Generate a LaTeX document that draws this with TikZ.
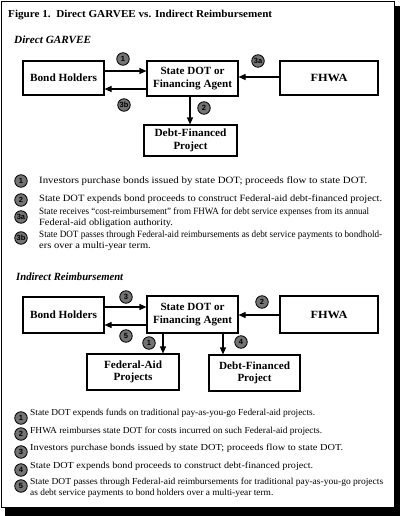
\documentclass[tikz,border=0pt]{standalone}
\usepackage{fontspec}
\setmainfont{Liberation Serif}
\setsansfont{Liberation Sans}
\usetikzlibrary{arrows.meta}
\definecolor{badgegray}{RGB}{115,115,115}
\newsavebox\fitbox
\newcommand\fitto[2]{\sbox\fitbox{#2}\pgfmathsetmacro\fitratio{(#1)/(\the\wd\fitbox)}\global\let\lastratio\fitratio\scalebox{\fitratio}[1]{\usebox\fitbox}}
\newcommand\fitmix[2]{\sbox\fitbox{#2}\pgfmathsetmacro\fitratio{((#1)/(\the\wd\fitbox)+\lastratio)/2}\scalebox{\fitratio}[1]{\usebox\fitbox}}
\tikzset{
  box/.style={draw=black, line width=1.1pt, fill=white, inner sep=0pt, align=center, font=\fontsize{11}{12.5}\selectfont\bfseries},
  badge/.style={circle, draw=black, line width=0.8pt, fill=badgegray, inner sep=0pt, minimum size=12.5pt, font=\fontsize{7.5}{8}\sffamily\bfseries},
  flow/.style={line width=1.1pt, -{Triangle[length=7pt,width=6pt]}},
  legend/.style={anchor=west, inner sep=0pt, align=left, font=\fontsize{9.6}{11.2}\selectfont},
  legendb/.style={anchor=west, inner sep=0pt, align=left, font=\fontsize{9.2}{11.2}\selectfont},
  heading/.style={anchor=west, inner sep=0pt, font=\fontsize{11}{12}\selectfont\bfseries\itshape},
}
\begin{document}
\begin{tikzpicture}[x=1pt,y=-1pt]
\useasboundingbox (0,0) rectangle (400,516);
% frame with shadow
\fill[black] (5,6) rectangle (400,516);
\draw[fill=white, line width=0.6pt] (1.5,1.5) rectangle (394,507);

\node[anchor=west, inner sep=0pt, font=\fontsize{10.6}{12}\selectfont\bfseries] (title) at (8,15) {\fitto{264}{Figure 1.\ \ Direct GARVEE vs. Indirect Reimbursement}};

% ---------- Direct GARVEE ----------
\node[heading] (h1) at (14,40) {\fitto{77}{Direct GARVEE}};

\node[box, minimum width=81pt, minimum height=34pt] (bh1) at (63.5,78) {\fitto{67}{Bond Holders}};
\node[box, minimum width=91pt, minimum height=35pt] (sd1) at (192.5,78.5) {\fitto{64}{State DOT or}\\\fitto{79}{Financing Agent}};
\node[box, minimum width=98pt, minimum height=34pt] (fh1) at (329,78) {\fitto{37}{FHWA}};
\node[box, minimum width=93pt, minimum height=31pt] (df1) at (190.5,140.5) {\fitto{72}{Debt-Financed}\\\fitto{34}{Project}};

\coordinate (a1s) at (bh1.east |- 0,71);
\coordinate (a1e) at (sd1.west |- 0,71);
\draw[flow] (a1s) -- (a1e);
\coordinate (a3bs) at (sd1.west |- 0,89);
\coordinate (a3be) at (bh1.east |- 0,89);
\draw[flow] (a3bs) -- (a3be);
\coordinate (a3as) at (fh1.west |- 0,77);
\coordinate (a3ae) at (sd1.east |- 0,77);
\draw[flow] (a3as) -- (a3ae);
\coordinate (a2s) at (sd1.south -| 190,0);
\coordinate (a2e) at (df1.north -| 190,0);
\draw[flow] (a2s) -- (a2e);

\node[badge] (b1) at (123,59) {1};
\node[badge] (b3a) at (258,61) {3a};
\node[badge] (b3b) at (124,105) {3b};
\node[badge] (b2) at (204,108) {2};

% legend 1
\node[badge] (l1) at (21,181) {1};
\node[legend] (t1) at (39,181) {\fitto{328}{Investors purchase bonds issued by state DOT; proceeds flow to state DOT.}};
\node[badge] (l2) at (21,200) {2};
\node[legend] (t2) at (39,199.5) {\fitto{343}{State DOT expends bond proceeds to construct Federal-aid debt-financed project.}};
\node[badge] (l3a) at (21,217) {3a};
\node[legend] (t3a) at (39,217.5) {\fitto{330}{State receives “cost-reimbursement” from FHWA for debt service expenses from its annual}\\\fitmix{151}{Federal-aid obligation authority.}};
\node[badge] (l3b) at (21,238) {3b};
\node[legend] (t3b) at (39,240.5) {\fitto{343}{State DOT passes through Federal-aid reimbursements as debt service payments to bondhold-}\\\fitmix{126}{ers over a multi-year term.}};

% ---------- Indirect Reimbursement ----------
\node[heading] (h2) at (16,277) {\fitto{107}{Indirect Reimbursement}};

\node[box, minimum width=81pt, minimum height=36pt] (bh2) at (63.5,315) {\fitto{67}{Bond Holders}};
\node[box, minimum width=91pt, minimum height=37pt] (sd2) at (192.5,314.5) {\fitto{64}{State DOT or}\\\fitto{79}{Financing Agent}};
\node[box, minimum width=98pt, minimum height=37pt] (fh2) at (329,314.5) {\fitto{37}{FHWA}};
\node[box, minimum width=92pt, minimum height=36pt] (fa2) at (133,372) {\fitto{58}{Federal-Aid}\\\fitto{39}{Projects}};
\node[box, minimum width=91pt, minimum height=36pt] (df2) at (254.5,373) {\fitto{71}{Debt-Financed}\\\fitto{34}{Project}};

\coordinate (c3s) at (bh2.east |- 0,307);
\coordinate (c3e) at (sd2.west |- 0,307);
\draw[flow] (c3s) -- (c3e);
\coordinate (c5s) at (sd2.west |- 0,325);
\coordinate (c5e) at (bh2.east |- 0,325);
\draw[flow] (c5s) -- (c5e);
\coordinate (c2s) at (fh2.west |- 0,315);
\coordinate (c2e) at (sd2.east |- 0,315);
\draw[flow] (c2s) -- (c2e);
\coordinate (c1s) at (sd2.south -| 163,0);
\coordinate (c1e) at (fa2.north -| 163,0);
\draw[flow] (c1s) -- (c1e);
\coordinate (c4s) at (sd2.south -| 223,0);
\coordinate (c4e) at (df2.north -| 223,0);
\draw[flow] (c4s) -- (c4e);

\node[badge] (d3) at (126,297) {3};
\node[badge] (d5) at (126,336) {5};
\node[badge] (d2) at (262,302) {2};
\node[badge] (d1) at (149,343) {1};
\node[badge] (d4) at (241,342) {4};

% legend 2
\node[badge] (m1) at (21,418) {1};
\node[legendb] (u1) at (30,413.5) {\fitto{285}{State DOT expends funds on traditional pay-as-you-go Federal-aid projects.}};
\node[badge] (m2) at (21,434) {2};
\node[legendb] (u2) at (30,431) {\fitto{292}{FHWA reimburses state DOT for costs incurred on such Federal-aid projects.}};
\node[badge] (m3) at (21,452) {3};
\node[legendb] (u3) at (30,448.5) {\fitto{313}{Investors purchase bonds issued by state DOT; proceeds flow to state DOT.}};
\node[badge] (m4) at (21,470) {4};
\node[legendb] (u4) at (30,466) {\fitto{283}{State DOT expends bond proceeds to construct debt-financed project.}};
\node[badge] (m5) at (21,486) {5};
\node[legendb] (u5) at (30,487.5) {\fitto{353}{State DOT passes through Federal-aid reimbursements for traditional pay-as-you-go projects}\\\fitmix{240}{as debt service payments to bond holders over a multi-year term.}};
\end{tikzpicture}
\end{document}
